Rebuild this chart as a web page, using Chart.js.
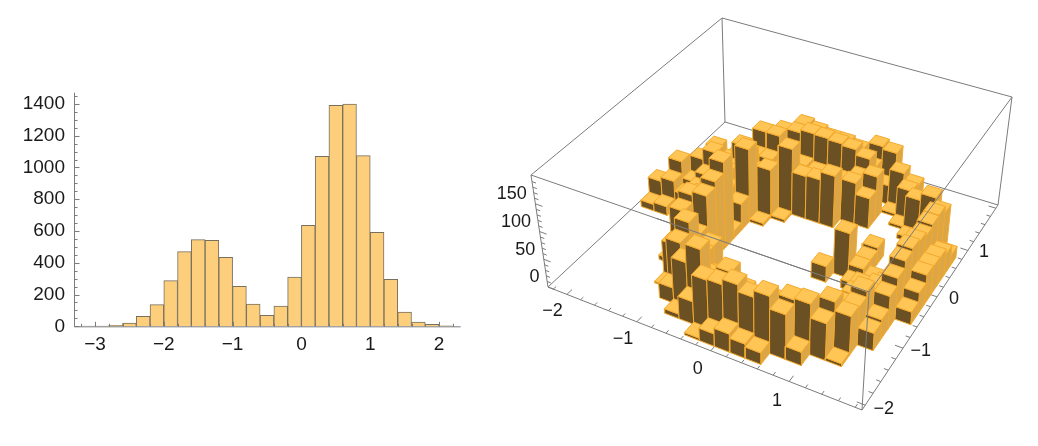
<!DOCTYPE html>
<html><head><meta charset="utf-8"><style>html,body{margin:0;padding:0;background:#fff}canvas{position:absolute;top:0}</style>
<script src="https://cdn.jsdelivr.net/npm/chart.js@4"></script></head><body>
<canvas id="a" width="480" height="446" style="left:0"></canvas>
<canvas id="b" width="558" height="446" style="left:480px"></canvas>
<script>
const binCenters=[-3.1,-2.9,-2.7,-2.5,-2.3,-2.1,-1.9,-1.7,-1.5,-1.3,-1.1,-0.9,-0.7,-0.5,-0.3,-0.1,0.1,0.3,0.5,0.7,0.9,1.1,1.3,1.5,1.7,1.9,2.1];
const binCounts=[1,1,6,21,63,136,288,470,546,541,434,252,140,69,128,310,636,1070,1392,1400,1075,592,296,90,27,12,3];
const xTicks2d=[-3,-2,-1,0,1,2], yTicks2d=[0,200,400,600,800,1000,1200,1400];
// heights3d[iy][ix]: x bins from -2.2 step 0.2, y bins from -2 step 0.2
const heights3d=[
[0,0,0,0,0,0,0,0,0,4,22,32,25,20,0,0,0,0,0,0],
[0,0,0,0,0,0,0,8,40,88,90,100,88,100,78,23,0,0,0,0],
[0,0,0,0,0,0,27,82,115,60,94,70,60,70,85,88,64,5,0,0],
[0,0,0,0,0,3,90,60,50,20,0,0,0,0,30,40,83,68,0,0],
[0,0,0,0,0,60,110,60,30,0,0,0,0,0,0,20,60,65,30,0],
[0,0,0,0,8,105,70,60,0,0,0,0,0,0,0,0,30,75,35,0],
[0,0,0,0,28,118,125,0,0,0,0,0,0,0,0,0,40,50,58,0],
[0,0,0,0,0,100,135,0,0,0,0,0,0,0,0,0,38,45,72,22],
[0,0,0,0,40,90,155,0,0,0,0,0,0,28,0,15,10,30,85,38],
[12,16,0,0,60,90,13,0,0,0,0,0,0,0,80,25,15,0,90,52],
[40,48,30,50,70,60,47,0,0,0,0,0,0,0,0,25,0,0,85,50],
[0,70,40,60,70,50,133,5,0,0,0,0,0,0,0,30,0,0,78,48],
[0,0,68,88,60,30,60,88,5,0,0,0,0,0,0,0,0,0,83,38],
[0,0,0,0,50,88,60,60,120,78,80,95,0,0,0,0,0,0,84,20],
[0,0,62,45,80,70,70,60,60,50,50,50,75,55,0,0,8,25,72,0],
[0,0,0,40,50,100,100,60,60,55,55,55,70,80,0,5,62,75,0,0],
[0,0,0,0,0,60,95,100,106,105,103,100,90,0,5,55,25,0,0,0],
[0,0,0,0,0,0,0,100,95,90,90,85,60,34,65,50,0,0,0,0],
[0,0,0,0,0,0,0,0,0,0,0,0,85,80,0,0,0,0,0,0],
[0,0,0,0,0,0,0,0,0,0,0,0,0,0,0,0,0,0,0,0]];
const xBinStart=-2.2,yBinStart=-2,binStep=0.2;
const xTicks3d=[-2,-1,0,1],yTicks3d=[-2,-1,0,1],zTicks3d=[0,50,100,150];
const F='"Liberation Sans"',INK='#1a1a1a',AXIS='#7b7b7b';
const neg=v=>String(v).replace('-','\u2212');
const axis2d={id:'axis2d',afterDraw(c){const x=c.scales.x,y=c.scales.y,g=c.ctx;g.save();g.strokeStyle=AXIS;g.lineWidth=1;
 const bx=y.bottom+.5,lx=x.left+.5;g.beginPath();g.moveTo(x.left,bx);g.lineTo(x.right,bx);g.moveTo(lx,y.top);g.lineTo(lx,y.bottom);
 for(let i=-32;i<=22;i+=2){const p=Math.round(x.getPixelForValue(i/10))+.5;g.moveTo(p,bx);g.lineTo(p,bx-(i%10==0?5:3));}
 for(let v=0;v<=1450;v+=50){const p=Math.round(y.getPixelForValue(v))+.5;g.moveTo(lx,p);g.lineTo(lx+(v%200==0?5:3),p);}
 g.stroke();g.restore();}};
new Chart('a',{type:'bar',data:{datasets:[{data:binCenters.map((x,i)=>({x,y:binCounts[i]})),backgroundColor:'#FDCF7D',borderColor:'#77705F',borderWidth:1,barPercentage:1,categoryPercentage:1}]},
 options:{responsive:false,animation:false,layout:{padding:{right:19.3,top:92.7}},plugins:{legend:{display:false},tooltip:{enabled:false}},
 scales:{x:{type:'linear',offset:false,min:-3.305,max:2.315,grid:{display:false,drawTicks:false},border:{display:false},afterBuildTicks(s){s.ticks=xTicks2d.map(value=>({value}))},
   ticks:{color:INK,font:{family:F,size:19},maxRotation:0,autoSkip:false,padding:7,callback:v=>neg(v)},afterFit(s){s.height=119.7}},
  y:{min:0,max:1471,grid:{display:false,drawTicks:false},border:{display:false},afterBuildTicks(s){s.ticks=yTicks2d.map(value=>({value}))},
   ticks:{color:INK,font:{family:F,size:19},padding:9,callback:v=>String(v)},afterFit(s){s.width=74}}}},plugins:[axis2d]});

const A=[548,287],B=[862,410],D=[998,205],C=[725,122],A2=[531,175],B2=[869,292],D2=[1012,97],C2=[722,18];
function homog(p0,p1,p2,p3){const dx1=p1[0]-p2[0],dx2=p3[0]-p2[0],sx=p0[0]-p1[0]+p2[0]-p3[0],dy1=p1[1]-p2[1],dy2=p3[1]-p2[1],sy=p0[1]-p1[1]+p2[1]-p3[1],det=dx1*dy2-dx2*dy1,
 g=(sx*dy2-dx2*sy)/det,h=(dx1*sy-sx*dy1)/det,a=p1[0]-p0[0]+g*p1[0],b=p3[0]-p0[0]+h*p3[0],d=p1[1]-p0[1]+g*p1[1],e=p3[1]-p0[1]+h*p3[1];
 return(u,v)=>{const w=g*u+h*v+1;return[(a*u+b*v+p0[0])/w,(d*u+e*v+p0[1])/w]}}
const Hb=homog(A,B,D,C),Ht=homog(A2,B2,D2,C2);
const xLo=-2.28,xHi=1.88,yLo=-2.08,yHi=2.08,zHi=202;
function P(x,y,z){const u=(x-xLo)/(xHi-xLo),v=(y-yLo)/(yHi-yLo),t=z/zHi,p=Hb(u,v),q=Ht(u,v);return{x:p[0]+(q[0]-p[0])*t-480,y:p[1]+(q[1]-p[1])*t}}
const ds=[];
function poly(pts,fill,stroke,lw){ds.push({data:fill?pts.concat([pts[0]]):pts,showLine:true,pointRadius:0,tension:0,fill:fill?'shape':false,backgroundColor:fill||'transparent',borderColor:stroke,borderWidth:lw,clip:false})}
const box=(a,b)=>poly([a,b],null,AXIS,1);
const ll=P(xLo,yLo,0),lr=P(xHi,yLo,0),rr=P(xHi,yHi,0),bk=P(xLo,yHi,0),ll2=P(xLo,yLo,zHi),lr2=P(xHi,yLo,zHi),rr2=P(xHi,yHi,zHi),bk2=P(xLo,yHi,zHi);
box(ll,bk);box(bk,rr);box(bk,bk2);box(rr,rr2);box(ll,lr);box(lr,rr);box(ll,ll2);box(ll2,bk2);box(bk2,rr2);box(ll2,lr2);
for(let i=-22;i<=18;i+=2){const x=i/10,maj=i%10==0;poly([P(x,yLo,0),P(x,yLo+(maj?.1:.055),0)],null,AXIS,1)}
for(let i=-20;i<=20;i+=2){const y=i/10,maj=i%10==0;poly([P(xHi,y,0),P(xHi-(maj?.1:.055),y,0)],null,AXIS,1)}
for(let z=0;z<=190;z+=10){const maj=z%50==0;poly([P(xLo,yLo,z),P(xLo+(maj?.1:.055),yLo,z)],null,AXIS,1)}
const TOP='#FFC655',SIDE='#DCA647',FRONT='#6B5023',EDGE='#F2A92E';
for(let j=heights3d.length-1;j>=0;j--)for(let i=0;i<heights3d[j].length;i++){const h=heights3d[j][i];if(!h)continue;
 const x0=xBinStart+i*binStep,x1=x0+binStep,y0=yBinStart+j*binStep,y1=y0+binStep;
 poly([P(x1,y0,0),P(x1,y1,0),P(x1,y1,h),P(x1,y0,h)],SIDE,EDGE,1);
 poly([P(x0,y0,0),P(x1,y0,0),P(x1,y0,h),P(x0,y0,h)],FRONT,EDGE,1);
 poly([P(x0,y0,h),P(x1,y0,h),P(x1,y1,h),P(x0,y1,h)],TOP,EDGE,1);}
box(P(-0.62,yLo,zHi),lr2);box(lr2,rr2);box(lr,lr2);
ds.reverse();
const labels3d={id:'labels3d',afterDraw(c){const g=c.ctx;g.save();g.font='18px '+F;g.fillStyle=INK;g.textBaseline='middle';g.textAlign='center';
 xTicks3d.forEach(v=>{const p=P(v,yLo-.3,0);g.fillText(neg(v),p.x+1,p.y+2)});
 yTicks3d.forEach(v=>{const p=P(xHi+.24,v,0);g.fillText(neg(v),p.x-2,p.y-4)});
 g.textAlign='right';zTicks3d.forEach(v=>{const p=P(xLo,yLo,v);g.fillText(String(v),p.x-8.5,p.y-9.5)});g.restore()}};
new Chart('b',{type:'scatter',data:{datasets:ds},options:{responsive:false,animation:false,plugins:{legend:{display:false},tooltip:{enabled:false}},layout:{padding:0},
 scales:{x:{display:false,min:0,max:558},y:{display:false,min:0,max:446,reverse:true}}},plugins:[labels3d]});
</script></body></html>
